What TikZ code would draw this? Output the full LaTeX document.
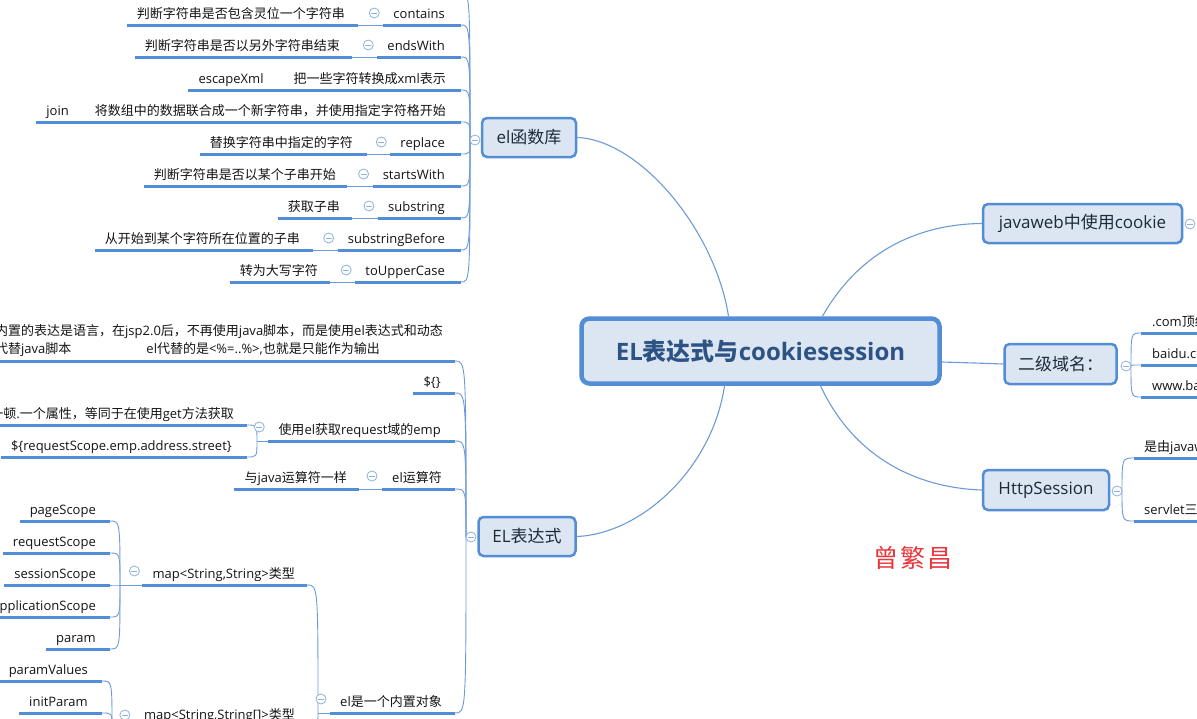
\documentclass[tikz,border=0pt]{standalone}
\usepackage{fontspec}
\setmainfont{Open Sans}
\newfontfamily\cjkfont{Noto Sans CJK SC}
\usetikzlibrary{calc}
% automatic switch to the CJK font for CJK characters
\XeTeXinterchartokenstate=1
\newXeTeXintercharclass\cjkcls
\count255="3000
\loop\ifnum\count255<"3040 \XeTeXcharclass\count255=\cjkcls \advance\count255 by 1 \repeat
\count255="4E00
\loop\ifnum\count255<"A000 \XeTeXcharclass\count255=\cjkcls \advance\count255 by 1 \repeat
\count255="FF00
\loop\ifnum\count255<"FFF0 \XeTeXcharclass\count255=\cjkcls \advance\count255 by 1 \repeat
\XeTeXinterchartoks 0 \cjkcls = {\cjkfont}
\XeTeXinterchartoks 4095 \cjkcls = {\cjkfont}
\XeTeXinterchartoks \cjkcls 0 = {\rmfamily}
\XeTeXinterchartoks \cjkcls 4095 = {\rmfamily}
\definecolor{ul}{HTML}{538DD5}
\definecolor{cn}{HTML}{6E9BD7}
\definecolor{bxf}{HTML}{DCE6F2}
\definecolor{bxd}{HTML}{538DD5}
\definecolor{txt}{HTML}{141414}
\definecolor{boxtxt}{HTML}{1E2A3A}
\definecolor{ttl}{HTML}{2C5384}
\definecolor{cir}{HTML}{8EB1DF}
\definecolor{red1}{HTML}{E8363B}
% leaf: name, right x of underline, underline y, right x of text, text
\newcommand\mmleaf[5]{%
  \coordinate (#1-r) at (#2,#3);
  \node[lbl, anchor=base east] (#1) at (#4+10,#3-7) {#5};
  \coordinate (#1-l) at (#1.west |- #1-r);
  \draw[uline] (#1-l) -- (#1-r);}
% right-side leaf: name, left x of underline, underline y, left x of text, text
\newcommand\mmleafR[5]{%
  \coordinate (#1-l) at (#2,#3);
  \node[lbl, anchor=base west] (#1) at (#4-10,#3-7) {#5};
  \draw[uline] (#1-l) -- (1260,#3);}
\newcommand\mmcurve[2]{\draw[conn] (#1) .. controls (#1 |- #2) .. (#2);}
\begin{document}
\begin{tikzpicture}[x=1pt,y=-1pt,
  uline/.style={draw=ul, line width=3pt},
  conn/.style={draw=cn, line width=0.9pt},
  mconn/.style={draw=cn, line width=1.1pt},
  lbl/.style={font=\fontsize{13}{16}\selectfont, text=txt, inner xsep=10pt, inner ysep=1pt},
  mbox/.style={rectangle, rounded corners=5pt, draw=bxd, fill=bxf, line width=2.5pt, font=\fontsize{17}{20}\selectfont, text=boxtxt, inner sep=0pt},
  cbox/.style={rectangle, rounded corners=8pt, draw=bxd, fill=bxf, line width=4.5pt, font=\fontsize{24}{28}\selectfont\bfseries, text=ttl, inner sep=0pt},
  coll/.style={circle, draw=cir, fill=white, line width=0.8pt, minimum size=10pt, inner sep=0pt,
    path picture={\draw[cir, line width=0.8pt] ([xshift=-3pt]path picture bounding box.center) -- ([xshift=3pt]path picture bounding box.center);}}
]
\fill[white] (0,0) rectangle (1197,718);
\useasboundingbox (0,0) rectangle (1197,718);
\clip (0,0) rectangle (1197,718);

% ---------- main boxes ----------
\node[cbox, minimum width=358pt, minimum height=65pt] (central) at (760.5,351) {EL表达式与cookiesession};
\node[mbox, minimum width=94pt, minimum height=39pt] (elfunc) at (529,137.5) {el函数库};
\node[mbox, minimum width=97pt, minimum height=39pt] (elexpr) at (527,536.5) {EL表达式};
\node[mbox, minimum width=199pt, minimum height=39pt] (cookie) at (1082.5,223.5) {javaweb中使用cookie};
\node[mbox, minimum width=112pt, minimum height=40pt] (domain) at (1060.5,364) {二级域名：};
\node[mbox, minimum width=126pt, minimum height=40pt] (session) at (1046,490) {HttpSession};

% ---------- main connectors ----------
\draw[mconn] ($(central.north)+(-32,0)$) .. controls (715,230) and (640,140) .. (elfunc.east);
\draw[mconn] ($(central.south)+(-36,0)$) .. controls (712,470) and (640,534) .. (elexpr.east);
\draw[mconn] ($(central.north)+(62,0)$) .. controls (860,250) and (920,224) .. (cookie.west);
\draw[mconn] ($(central.east)+(0,11)$) .. controls (975,363) .. (domain.west);
\draw[mconn] ($(central.south)+(60,0)$) .. controls (855,460) and (920,488) .. (session.west);

% ---------- el函数库 group ----------
\coordinate (J1) at (470,140);
\coordinate (above-r) at (461,-7);
\mmleaf{contains}{461}{25}{445}{contains}
\mmleaf{containsD}{358}{25}{345}{判断字符串是否包含灵位一个字符串}
\mmleaf{endsWith}{461}{57}{445}{endsWith}
\mmleaf{endsWithD}{352}{57}{340}{判断字符串是否以另外字符串结束}
\mmleaf{escapeXml}{461}{90}{446}{escapeXml\hspace{30pt}把一些字符转换成xml表示}
\mmleaf{join}{461}{122}{446}{join\hspace{26pt}将数组中的数据联合成一个新字符串，并使用指定字符格开始}
\mmleaf{replace}{461}{154}{445}{replace}
\mmleaf{replaceD}{367}{154}{353}{替换字符串中指定的字符}
\mmleaf{startsWith}{461}{186}{445}{startsWith}
\mmleaf{startsWithD}{347}{186}{336}{判断字符串是否以某个子串开始}
\mmleaf{substring}{461}{218}{445}{substring}
\mmleaf{substringD}{352}{218}{340}{获取子串}
\mmleaf{substringBefore}{461}{250}{445}{substringBefore}
\mmleaf{substringBeforeD}{313}{250}{300}{从开始到某个字符所在位置的子串}
\mmleaf{toUpperCase}{461}{282}{445}{toUpperCase}
\mmleaf{toUpperCaseD}{330}{282}{318}{转为大写字符}
\foreach \n in {contains,endsWith,replace,startsWith,substring,substringBefore,toUpperCase}{
  \draw[conn] (\n D-r) -- (\n-l);
}
\foreach \n in {above,contains,endsWith,escapeXml,join,replace,startsWith,substring,substringBefore,toUpperCase}{
  \mmcurve{J1}{\n-r}
}

% ---------- EL表达式 group ----------
\coordinate (J2) at (466,537);
\node[lbl, align=left, anchor=north west, inner sep=0pt, font=\fontsize{13}{18}\selectfont] (top) at (-5,324)
  {内置的表达是语言，在jsp2.0后，不再使用java脚本，而是使用el表达式和动态\\代替java脚本\hspace{75pt}el代替的是<\%=..\%>,也就是只能作为输出};
\coordinate (top-r) at (455,361);
\draw[uline] (top.west |- top-r) -- (top-r);
\mmleaf{dollar}{455}{393}{441}{\$\{\}}
\mmleaf{getemp}{455}{441}{441}{使用el获取request域的emp}
\coordinate (J3) at (257,441);
\mmleaf{empA}{247}{425}{234}{一顿.一个属性，等同于在使用get方法获取}
\mmleaf{empB}{247}{457}{232}{\$\{requestScope.emp.address.street\}}
\mmleaf{elop}{455}{489}{442}{el运算符}
\mmleaf{elopD}{359}{489}{347}{与java运算符一样}
\mmleaf{builtin}{455}{713}{442}{el是一个内置对象}
\coordinate (J5) at (318,713);
\mmleaf{mapA}{307}{585}{295}{map<String,String>类型}
\coordinate (J6) at (120,585);
\mmleaf{pageScope}{110}{521}{96}{pageScope}
\mmleaf{requestScope}{110}{553}{96}{requestScope}
\mmleaf{sessionScope}{110}{585}{96}{sessionScope}
\mmleaf{applicationScope}{110}{617}{96}{applicationScope}
\mmleaf{param}{110}{649}{96}{param}
\mmleaf{mapB}{307}{726}{295}{map<String,String[]>类型}
\coordinate (J7) at (112,726);
\mmleaf{paramValues}{102}{681}{88}{paramValues}
\mmleaf{initParam}{102}{713}{88}{initParam}
\coordinate (more-r) at (102,770);

\foreach \n in {top,dollar,getemp,elop,builtin}{\mmcurve{J2}{\n-r}}
\foreach \n in {empA,empB}{\mmcurve{J3}{\n-r}}
\foreach \n in {mapA,mapB}{\mmcurve{J5}{\n-r}}
\foreach \n in {pageScope,requestScope,sessionScope,applicationScope,param}{\mmcurve{J6}{\n-r}}
\foreach \n in {paramValues,initParam,more}{\mmcurve{J7}{\n-r}}
\draw[conn] (J3) -- (getemp-l);
\draw[conn] (elopD-r) -- (elop-l);
\draw[conn] (J5) -- (builtin-l);
\draw[conn] (J6) -- (mapA-l);
\draw[conn] (J7) -- (mapB-l);

% ---------- right groups ----------
\coordinate (J8) at (1131,366);
\mmleafR{com}{1141}{333}{1152}{.com顶级域名}
\mmleafR{baidu}{1141}{365}{1152}{baidu.com}
\mmleafR{www}{1141}{397}{1152}{www.baidu.com}
\foreach \n in {com,baidu,www}{\mmcurve{J8}{\n-l}}
\coordinate (J9) at (1122,491);
\mmleafR{sessA}{1134}{458}{1144}{是由javaweb服务器创建}
\mmleafR{sessB}{1134}{521}{1144}{servlet三大域对象}
\foreach \n in {sessA,sessB}{\mmcurve{J9}{\n-l}}

% ---------- collapse circles ----------
\foreach \n in {contains,endsWith,replace,startsWith,substring,substringBefore,toUpperCase}{
  \node[coll] at ($(\n-l)+(-9,-12)$) {};
}
\node[coll] (c-getemp) at ($(getemp-l)+(-9,-14)$) {};
\node[coll] (c-elop) at ($(elop-l)+(-10,-13)$) {};
\node[coll] (c-builtin) at ($(builtin-l)+(-9,-14)$) {};
\node[coll] (c-mapA) at ($(mapA-l)+(-8,-14)$) {};
\node[coll] (c-mapB) at ($(mapB-l)+(-9,-11)$) {};
\node[coll] (c-elfunc) at (475,140) {};
\node[coll] (c-elexpr) at (471,537) {};
\node[coll] (c-cookie) at (1190,224) {};
\node[coll] (c-domain) at (1126,366) {};
\node[coll] (c-session) at (1117,491) {};

% ---------- signature ----------
\node[text=red1, font=\fontsize{25}{28}\selectfont, inner sep=0pt] (sig) at (913,558) {曾\hspace{2pt}繁\hspace{2pt}昌};
\end{tikzpicture}
\end{document}
